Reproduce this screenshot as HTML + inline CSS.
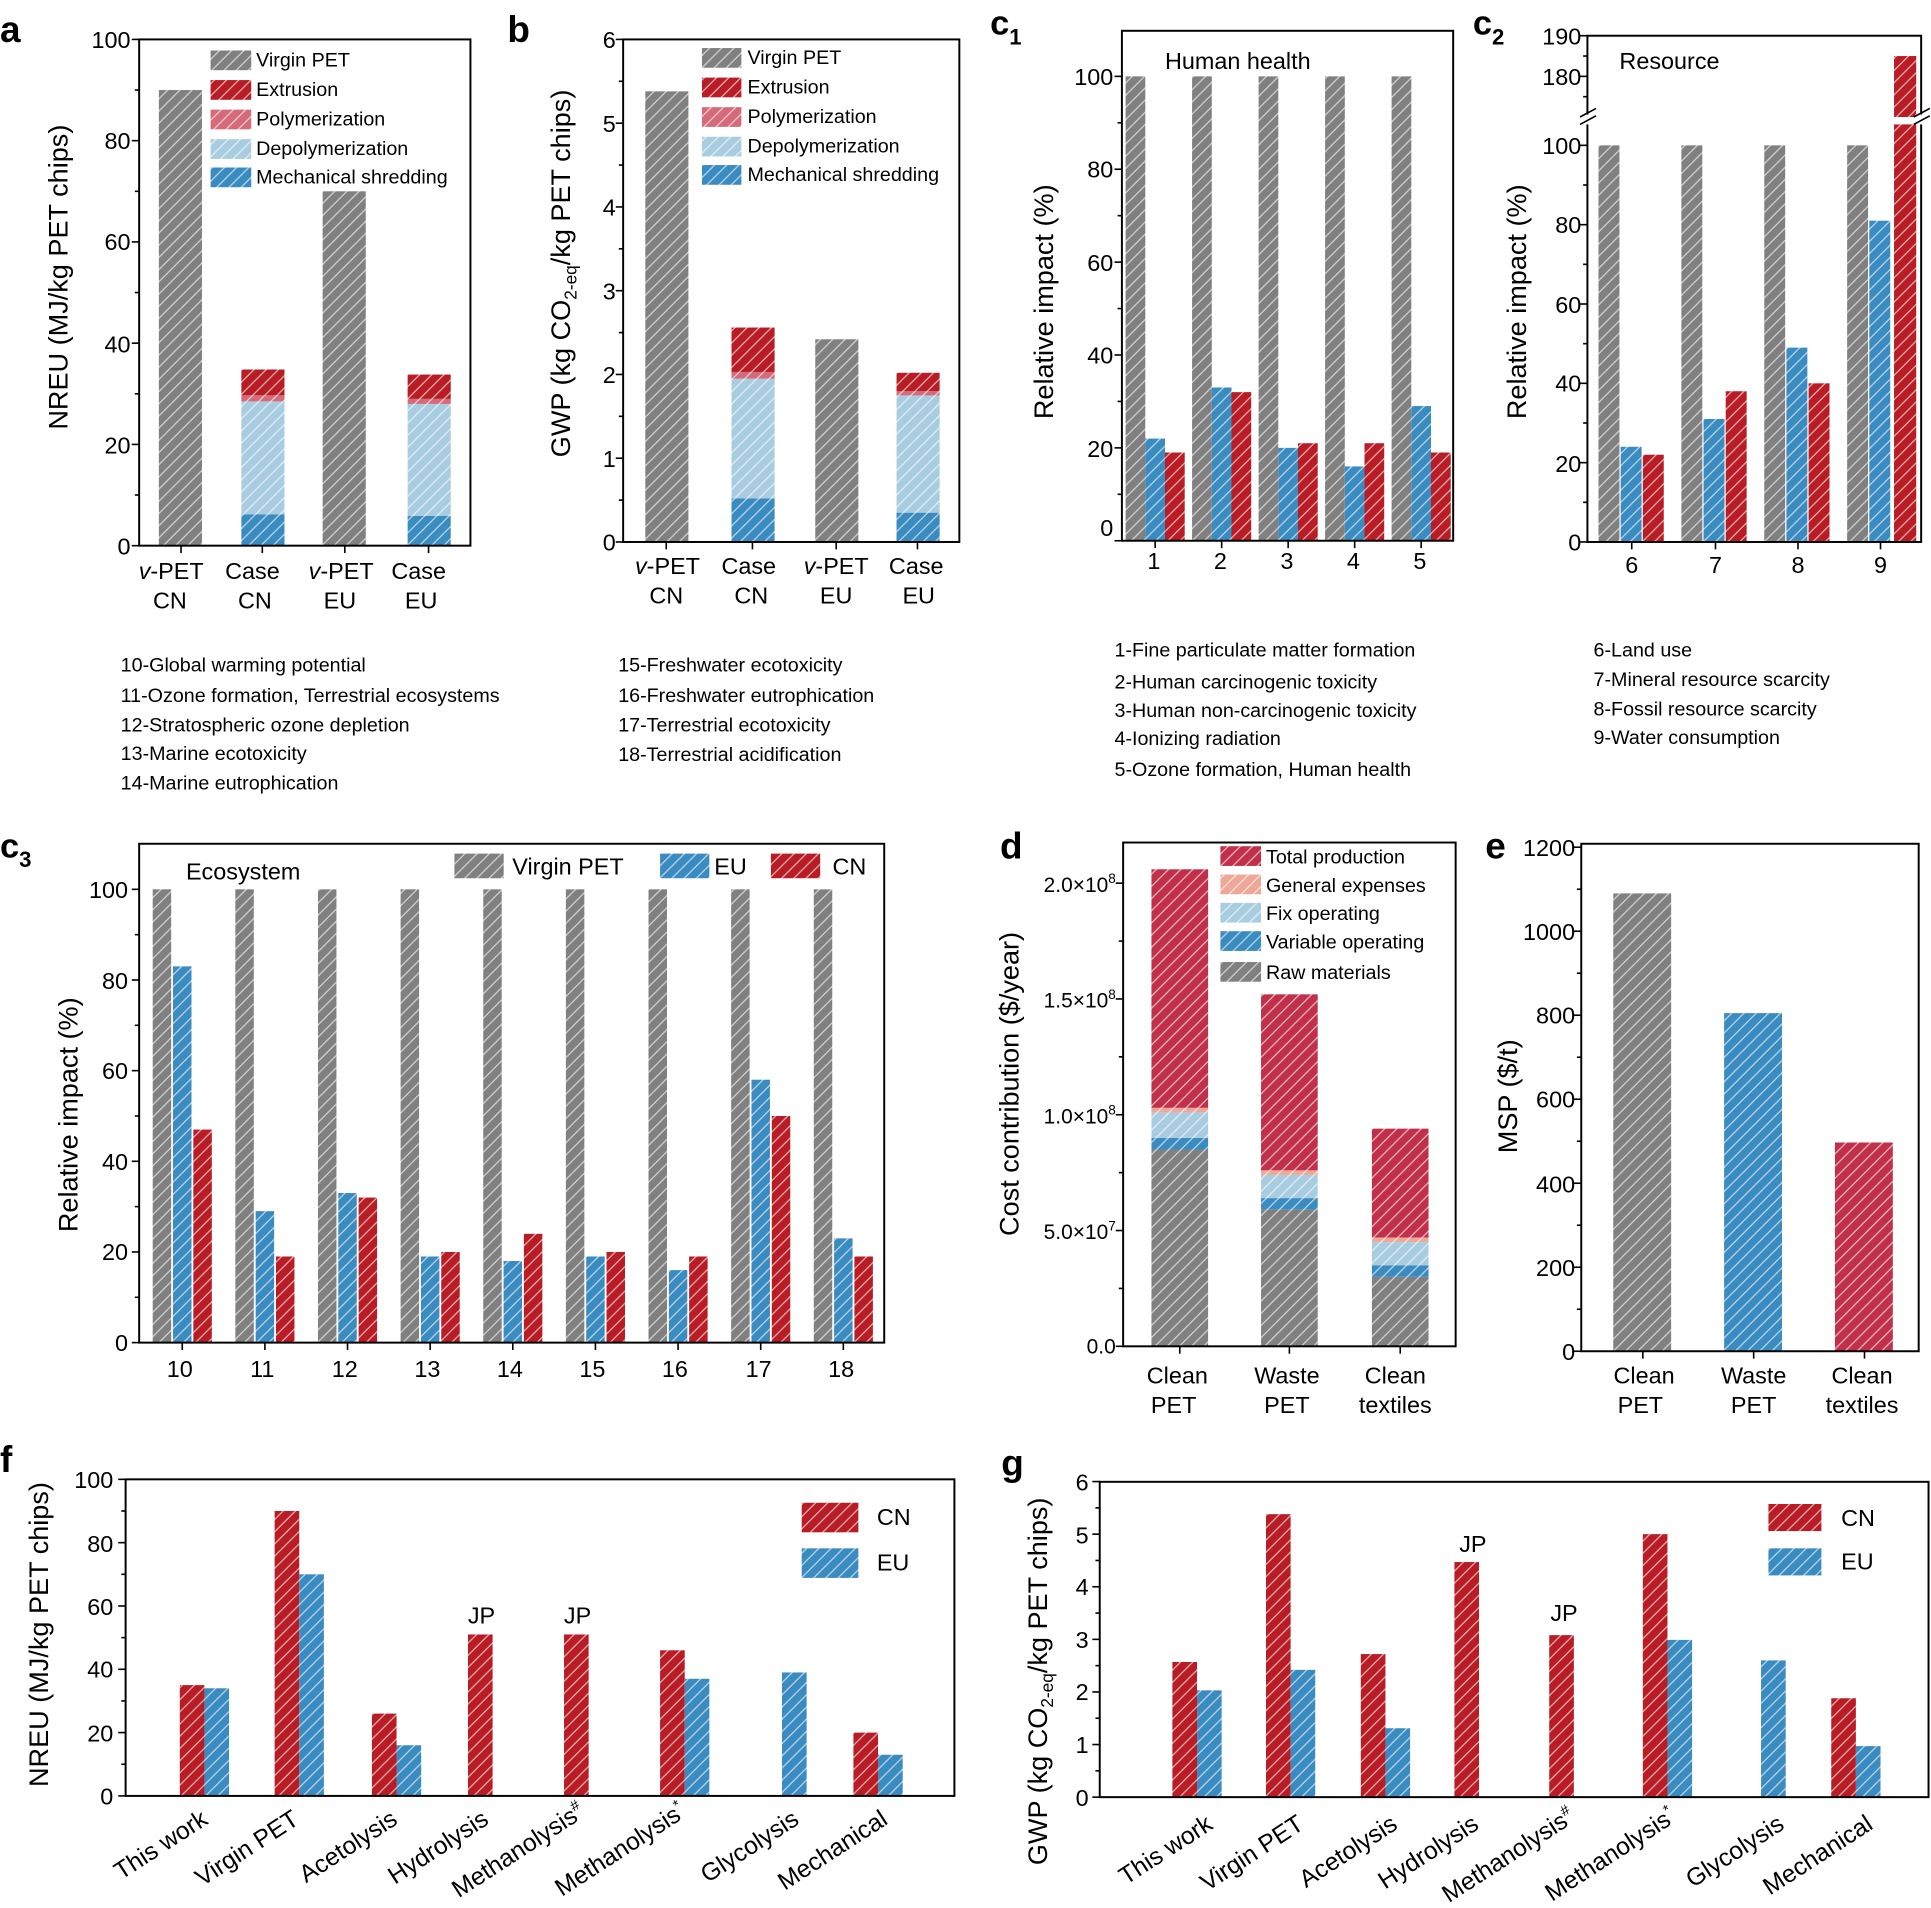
<!DOCTYPE html>
<html><head><meta charset="utf-8"><style>
html,body{margin:0;padding:0;background:#fff}
svg{display:block;font-family:"Liberation Sans",Arial,sans-serif}
</style></head><body>
<svg id="s" width="1931" height="1908" viewBox="0 0 1568 1549" preserveAspectRatio="none" xmlns="http://www.w3.org/2000/svg">
<defs>
<pattern id="pg" width="7" height="7" patternUnits="userSpaceOnUse" patternTransform="rotate(45)"><rect width="7" height="7" fill="#808080"/><line x1="1" y1="0" x2="1" y2="7" stroke="#fff" stroke-width="1" opacity=".65"/></pattern>
<pattern id="pr" width="7" height="7" patternUnits="userSpaceOnUse" patternTransform="rotate(45)"><rect width="7" height="7" fill="#b81c25"/><line x1="1" y1="0" x2="1" y2="7" stroke="#fff" stroke-width="1" opacity=".65"/></pattern>
<pattern id="pc" width="7" height="7" patternUnits="userSpaceOnUse" patternTransform="rotate(45)"><rect width="7" height="7" fill="#c0304a"/><line x1="1" y1="0" x2="1" y2="7" stroke="#fff" stroke-width="1" opacity=".65"/></pattern>
<pattern id="pp" width="7" height="7" patternUnits="userSpaceOnUse" patternTransform="rotate(45)"><rect width="7" height="7" fill="#d46a7a"/><line x1="1" y1="0" x2="1" y2="7" stroke="#fff" stroke-width="1" opacity=".65"/></pattern>
<pattern id="pl" width="7" height="7" patternUnits="userSpaceOnUse" patternTransform="rotate(45)"><rect width="7" height="7" fill="#a9cde0"/><line x1="1" y1="0" x2="1" y2="7" stroke="#fff" stroke-width="1" opacity=".65"/></pattern>
<pattern id="pb" width="7" height="7" patternUnits="userSpaceOnUse" patternTransform="rotate(45)"><rect width="7" height="7" fill="#3a8bbf"/><line x1="1" y1="0" x2="1" y2="7" stroke="#fff" stroke-width="1" opacity=".65"/></pattern>
<pattern id="ps" width="7" height="7" patternUnits="userSpaceOnUse" patternTransform="rotate(45)"><rect width="7" height="7" fill="#eea898"/><line x1="1" y1="0" x2="1" y2="7" stroke="#fff" stroke-width="1" opacity=".65"/></pattern>
</defs>
<g id="marks"></g>
<g font-size="19" fill="#000">
<text x="0" y="34" font-size="30" font-weight="bold">a</text>
<text x="412" y="34" font-size="30" font-weight="bold">b</text>
<text x="804" y="28" font-size="28" font-weight="bold">c<tspan font-size="18" dy="8">1</tspan></text>
<text x="1196" y="28" font-size="28" font-weight="bold">c<tspan font-size="18" dy="8">2</tspan></text>
<text x="0" y="696" font-size="28" font-weight="bold">c<tspan font-size="18" dy="8">3</tspan></text>
<text x="812" y="697" font-size="30" font-weight="bold">d</text>
<text x="1206" y="697" font-size="30" font-weight="bold">e</text>
<text x="0" y="1195" font-size="30" font-weight="bold">f</text>
<text x="813" y="1198" font-size="30" font-weight="bold">g</text>

<g text-anchor="end"><text x="106" y="450">0</text><text x="106" y="368">20</text><text x="106" y="286">40</text><text x="106" y="203">60</text><text x="106" y="121">80</text><text x="106" y="39">100</text></g>
<text transform="translate(55,225) rotate(-90)" text-anchor="middle" font-size="22">NREU (MJ/kg PET chips)</text>
<g text-anchor="middle"><text x="139" y="470"><tspan font-style="italic">v</tspan>-PET</text><text x="138" y="494">CN</text>
<text x="205" y="470">Case</text><text x="207" y="494">CN</text>
<text x="277" y="470"><tspan font-style="italic">v</tspan>-PET</text><text x="276" y="494">EU</text>
<text x="340" y="470">Case</text><text x="342" y="494">EU</text></g>
<g font-size="16"><text x="208" y="54">Virgin PET</text><text x="208" y="78">Extrusion</text><text x="208" y="102">Polymerization</text><text x="208" y="126">Depolymerization</text><text x="208" y="149">Mechanical shredding</text></g>

<g text-anchor="end"><text x="500" y="447">0</text><text x="500" y="379">1</text><text x="500" y="311">2</text><text x="500" y="243">3</text><text x="500" y="175">4</text><text x="500" y="107">5</text><text x="500" y="39">6</text></g>
<text transform="translate(463,222) rotate(-90)" text-anchor="middle" font-size="22">GWP (kg CO<tspan font-size="14" dy="5">2-eq</tspan><tspan dy="-5">/kg PET chips)</tspan></text>
<g text-anchor="middle"><text x="542" y="466"><tspan font-style="italic">v</tspan>-PET</text><text x="541" y="490">CN</text>
<text x="608" y="466">Case</text><text x="610" y="490">CN</text>
<text x="679" y="466"><tspan font-style="italic">v</tspan>-PET</text><text x="679" y="490">EU</text>
<text x="744" y="466">Case</text><text x="746" y="490">EU</text></g>
<g font-size="16"><text x="607" y="52">Virgin PET</text><text x="607" y="76">Extrusion</text><text x="607" y="100">Polymerization</text><text x="607" y="124">Depolymerization</text><text x="607" y="147">Mechanical shredding</text></g>

<g text-anchor="end"><text x="904" y="435">0</text><text x="904" y="371">20</text><text x="904" y="295">40</text><text x="904" y="220">60</text><text x="904" y="144">80</text><text x="904" y="69">100</text></g>
<text transform="translate(855,245) rotate(-90)" text-anchor="middle" font-size="22">Relative impact (%)</text>
<text x="946" y="56" font-size="19">Human health</text>
<g text-anchor="middle"><text x="937" y="462">1</text><text x="991" y="462">2</text><text x="1045" y="462">3</text><text x="1099" y="462">4</text><text x="1153" y="462">5</text></g>

<g text-anchor="end"><text x="1284" y="447">0</text><text x="1284" y="383">20</text><text x="1284" y="318">40</text><text x="1284" y="254">60</text><text x="1284" y="189">80</text><text x="1284" y="125">100</text><text x="1284" y="69">180</text><text x="1284" y="36">190</text></g>
<text transform="translate(1239,245) rotate(-90)" text-anchor="middle" font-size="22">Relative impact (%)</text>
<text x="1315" y="56" font-size="19">Resource</text>
<g text-anchor="middle"><text x="1325" y="465">6</text><text x="1393" y="465">7</text><text x="1460" y="465">8</text><text x="1527" y="465">9</text></g>

<g font-size="16">
<text x="98" y="545">10-Global warming potential</text><text x="98" y="570">11-Ozone formation, Terrestrial ecosystems</text><text x="98" y="594">12-Stratospheric ozone depletion</text><text x="98" y="617">13-Marine ecotoxicity</text><text x="98" y="641">14-Marine eutrophication</text>
<text x="502" y="545">15-Freshwater ecotoxicity</text><text x="502" y="570">16-Freshwater eutrophication</text><text x="502" y="594">17-Terrestrial ecotoxicity</text><text x="502" y="618">18-Terrestrial acidification</text>
<text x="905" y="533">1-Fine particulate matter formation</text><text x="905" y="559">2-Human carcinogenic toxicity</text><text x="905" y="582">3-Human non-carcinogenic toxicity</text><text x="905" y="605">4-Ionizing radiation</text><text x="905" y="630">5-Ozone formation, Human health</text>
<text x="1294" y="533">6-Land use</text><text x="1294" y="557">7-Mineral resource scarcity</text><text x="1294" y="581">8-Fossil resource scarcity</text><text x="1294" y="604">9-Water consumption</text>
</g>

<g text-anchor="end"><text x="104" y="1097">0</text><text x="104" y="1023">20</text><text x="104" y="950">40</text><text x="104" y="876">60</text><text x="104" y="803">80</text><text x="104" y="729">100</text></g>
<text transform="translate(63,905) rotate(-90)" text-anchor="middle" font-size="22">Relative impact (%)</text>
<text x="151" y="714" font-size="19">Ecosystem</text>
<text x="416" y="710" font-size="19">Virgin PET</text><text x="580" y="710" font-size="19">EU</text><text x="676" y="710" font-size="19">CN</text>
<g text-anchor="middle"><text x="146" y="1118">10</text><text x="213" y="1118">11</text><text x="280" y="1118">12</text><text x="347" y="1118">13</text><text x="414" y="1118">14</text><text x="481" y="1118">15</text><text x="548" y="1118">16</text><text x="616" y="1118">17</text><text x="683" y="1118">18</text></g>

<g text-anchor="end" font-size="17"><text x="906" y="1099">0.0</text><text x="906" y="1006">5.0×10<tspan font-size="11" dy="-7">7</tspan></text><text x="906" y="912">1.0×10<tspan font-size="11" dy="-7">8</tspan></text><text x="906" y="818">1.5×10<tspan font-size="11" dy="-7">8</tspan></text><text x="906" y="724">2.0×10<tspan font-size="11" dy="-7">8</tspan></text></g>
<text transform="translate(827,880) rotate(-90)" text-anchor="middle" font-size="22">Cost contribution ($/year)</text>
<g font-size="16"><text x="1028" y="701">Total production</text><text x="1028" y="724">General expenses</text><text x="1028" y="747">Fix operating</text><text x="1028" y="770">Variable operating</text><text x="1028" y="795">Raw materials</text></g>
<g text-anchor="middle"><text x="956" y="1123">Clean</text><text x="953" y="1147">PET</text><text x="1045" y="1123">Waste</text><text x="1045" y="1147">PET</text><text x="1133" y="1123">Clean</text><text x="1133" y="1147">textiles</text>
<text x="1335" y="1123">Clean</text><text x="1332" y="1147">PET</text><text x="1424" y="1123">Waste</text><text x="1424" y="1147">PET</text><text x="1512" y="1123">Clean</text><text x="1512" y="1147">textiles</text></g>

<g text-anchor="end"><text x="1279" y="1104">0</text><text x="1279" y="1036">200</text><text x="1279" y="968">400</text><text x="1279" y="899">600</text><text x="1279" y="831">800</text><text x="1279" y="763">1000</text><text x="1279" y="695">1200</text></g>
<text transform="translate(1232,890) rotate(-90)" text-anchor="middle" font-size="22">MSP ($/t)</text>

<g text-anchor="end"><text x="92" y="1465">0</text><text x="92" y="1414">20</text><text x="92" y="1362">40</text><text x="92" y="1311">60</text><text x="92" y="1260">80</text><text x="92" y="1208">100</text></g>
<text transform="translate(39,1327) rotate(-90)" text-anchor="middle" font-size="22">NREU (MJ/kg PET chips)</text>
<text x="712" y="1238">CN</text><text x="712" y="1275">EU</text>
<text x="391" y="1318" text-anchor="middle">JP</text><text x="469" y="1318" text-anchor="middle">JP</text>
<g text-anchor="end" font-size="20">
<text transform="translate(170,1480) rotate(-33)">This work</text>
<text transform="translate(244,1480) rotate(-33)">Virgin PET</text>
<text transform="translate(324,1480) rotate(-33)">Acetolysis</text>
<text transform="translate(398,1480) rotate(-33)">Hydrolysis</text>
<text transform="translate(476,1474) rotate(-33)">Methanolysis<tspan font-size="12" dy="-8">#</tspan></text>
<text transform="translate(558,1474) rotate(-33)">Methanolysis<tspan font-size="12" dy="-8">*</tspan></text>
<text transform="translate(650,1480) rotate(-33)">Glycolysis</text>
<text transform="translate(722,1480) rotate(-33)">Mechanical</text>
</g>

<g text-anchor="end"><text x="884" y="1466">0</text><text x="884" y="1423">1</text><text x="884" y="1380">2</text><text x="884" y="1338">3</text><text x="884" y="1295">4</text><text x="884" y="1253">5</text><text x="884" y="1210">6</text></g>
<text transform="translate(850,1365) rotate(-90)" text-anchor="middle" font-size="22">GWP (kg CO<tspan font-size="14" dy="5">2-eq</tspan><tspan dy="-5">/kg PET chips)</tspan></text>
<text x="1495" y="1239">CN</text><text x="1495" y="1274">EU</text>
<text x="1196" y="1260" text-anchor="middle">JP</text><text x="1270" y="1316" text-anchor="middle">JP</text>
<g text-anchor="end" font-size="20">
<text transform="translate(986,1484) rotate(-33)">This work</text>
<text transform="translate(1060,1484) rotate(-33)">Virgin PET</text>
<text transform="translate(1136,1484) rotate(-33)">Acetolysis</text>
<text transform="translate(1202,1484) rotate(-33)">Hydrolysis</text>
<text transform="translate(1280,1478) rotate(-33)">Methanolysis<tspan font-size="12" dy="-8">#</tspan></text>
<text transform="translate(1362,1478) rotate(-33)">Methanolysis<tspan font-size="12" dy="-8">*</tspan></text>
<text transform="translate(1450,1484) rotate(-33)">Glycolysis</text>
<text transform="translate(1522,1484) rotate(-33)">Mechanical</text>
</g>
</g>
</svg>
<script>
var g=document.getElementById('marks'),NS='http://www.w3.org/2000/svg',h='';
function R(x,y,w,hh,f){h+='<rect x="'+x+'" y="'+y+'" width="'+w+'" height="'+hh+'" fill="url(#'+f+')"/>';}
function B(x,w,y0,s,a,b,f){var t=y0-b*s,bt=y0-a*s;R(x,t,w,bt-t,f);}
function L(x1,y1,x2,y2,sw){h+='<line x1="'+x1+'" y1="'+y1+'" x2="'+x2+'" y2="'+y2+'" stroke="#000" stroke-width="'+(sw||1.5)+'"/>';}
function box(x1,y1,x2,y2){h+='<rect x="'+x1+'" y="'+y1+'" width="'+(x2-x1)+'" height="'+(y2-y1)+'" fill="none" stroke="#000" stroke-width="1.6"/>';}
function yt(x,y0,s,step,max,minor){for(var v=0;v<=max+1e-9;v+=step){var y=y0-v*s;var maj=Math.abs(v/minor-Math.round(v/minor))<1e-6&&Math.round(v/minor)%2==0;L(x,y,x-(maj?6:3.5),y,1.3);}}
function xt(xs,y){xs.forEach(function(x){L(x,y,x,y+6,1.3);});}
var s=4.11,y0=443;
B(129,35,y0,s,0,90,'pg');B(262,35,y0,s,0,70,'pg');
var cx=196;B(cx,35,y0,s,0,6.2,'pb');B(cx,35,y0,s,6.2,28.5,'pl');B(cx,35,y0,s,28.5,29.7,'pp');B(cx,35,y0,s,29.7,34.8,'pr');
cx=331;B(cx,35,y0,s,0,5.9,'pb');B(cx,35,y0,s,5.9,28,'pl');B(cx,35,y0,s,28,29,'pp');B(cx,35,y0,s,29,33.8,'pr');
['pg','pr','pp','pl','pb'].forEach(function(p,i){R(171,[41,65,89,113,136][i],33,16,p);});
box(113,32,382,443);yt(113,443,4.11,10,100,10);xt([147,213,280,348],443);
s=68;y0=440;
B(524,35,y0,s,0,5.38,'pg');B(662,35,y0,s,0,2.42,'pg');
cx=594;B(cx,35,y0,s,0,0.52,'pb');B(cx,35,y0,s,0.52,1.95,'pl');B(cx,35,y0,s,1.95,2.03,'pp');B(cx,35,y0,s,2.03,2.56,'pr');
cx=728;B(cx,35,y0,s,0,0.35,'pb');B(cx,35,y0,s,0.35,1.75,'pl');B(cx,35,y0,s,1.75,1.8,'pp');B(cx,35,y0,s,1.8,2.02,'pr');
['pg','pr','pp','pl','pb'].forEach(function(p,i){R(570,[39,63,87,111,134][i],32,16,p);});
box(506,32,779,440);yt(506,440,68,0.5,6,0.5);xt([541,611,679,745],440);
s=3.77;y0=439;
[[100,22,19],[100,33,32],[100,20,21],[100,16,21],[100,29,19]].forEach(function(v,i){var c=938+54*i;B(c-24,16,y0,s,0,v[0],'pg');B(c-8,16,y0,s,0,v[1],'pb');B(c+8,16,y0,s,0,v[2],'pr');});
box(911,25,1180,439);yt(911,439,3.77,10,100,10);xt([938,992,1046,1100,1154],439);
s=3.22;y0=440;
[[100,24,22],[100,31,38],[100,49,40],[100,81,0]].forEach(function(v,i){var c=1325+67.3*i;B(c-27,17,y0,s,0,v[0],'pg');B(c-9,17,y0,s,0,v[1],'pb');if(v[2])B(c+9,17,y0,s,0,v[2],'pr');});
R(1538,101,18,339,'pr');R(1538,45.5,18,49.5,'pr');
h+='<rect x="1289" y="29" width="271" height="411" fill="none" stroke="#000" stroke-width="1.6"/>';
h+='<rect x="1282" y="93" width="12" height="8" fill="#fff"/><rect x="1555" y="93" width="12" height="8" fill="#fff"/>';
L(1283,95,1296,88,1.3);L(1283,101,1296,94,1.3);L(1554,95,1567,88,1.3);L(1554,101,1567,94,1.3);
for(var v=0;v<=100;v+=10){var y=440-v*3.22;L(1289,y,1289-(v%20==0?6:3.5),y,1.3);}
[[180,62,6],[190,29,6],[185,45.5,3.5],[175,78.5,3.5]].forEach(function(t){L(1289,t[1],1289-t[2],t[1],1.3);});
xt([1325,1393,1460,1527],440);
s=3.68;y0=1090;
[[100,83,47],[100,29,19],[100,33,32],[100,19,20],[100,18,24],[100,19,20],[100,16,19],[100,58,50],[100,23,19]].forEach(function(v,i){var c=148+67.1*i;B(c-24,15,y0,s,0,v[0],'pg');B(c-7.5,15,y0,s,0,v[1],'pb');B(c+9,15,y0,s,0,v[2],'pr');});
R(369,693,40,20,'pg');R(536,693,40,20,'pb');R(626,693,40,20,'pr');
box(113,685,718,1090);yt(113,1090,3.68,10,100,10);xt([148,215.1,282.2,349.3,416.4,483.5,550.6,617.7,684.8],1090);
s=1.88;y0=1093;
[[935,8.5,9.0,10.1,10.3,20.6],[1024,5.9,6.4,7.4,7.6,15.2],[1114,3.0,3.5,4.5,4.7,9.4]].forEach(function(d){var x=d[0];B(x,46,y0,s*10,0,d[1],'pg');B(x,46,y0,s*10,d[1],d[2],'pb');B(x,46,y0,s*10,d[2],d[3],'pl');B(x,46,y0,s*10,d[3],d[4],'ps');B(x,46,y0,s*10,d[4],d[5],'pc');});
['pc','ps','pl','pb','pg'].forEach(function(p,i){R(991,[687,710,733,756,781][i],33,16,p);});
box(912,684,1182,1093);yt(912,1093,18.8,2.5,22,2.5);xt([958,1047,1137],1093);
s=0.341;y0=1097;
B(1310,47,y0,s,0,1090,'pg');B(1400,47,y0,s,0,805,'pb');B(1490,47,y0,s,0,497,'pc');
box(1284,685,1558,1097);yt(1284,1097,0.341,100,1200,100);xt([1334,1424,1514],1097);
s=2.57;y0=1458;
[[146,35,34],[223,90,70],[302,26,16],[380,51,0],[458,51,0],[536,46,37],[615,0,39],[693,20,13]].forEach(function(v){if(v[1])B(v[0],20,y0,s,0,v[1],'pr');if(v[2])B(v[0]+20,20,y0,s,0,v[2],'pb');});
R(651,1220,46,24,'pr');R(651,1257,46,24,'pb');
box(102,1201,775,1458);yt(102,1458,2.57,10,100,10);
s=42.7;y0=1459;
[[952,2.57,2.03],[1028,5.38,2.42],[1105,2.72,1.31],[1181,4.47,0],[1258,3.08,0],[1334,5.0,2.99],[1410,0,2.6],[1487,1.88,0.97]].forEach(function(v){if(v[1])B(v[0],20,y0,s,0,v[1],'pr');if(v[2])B(v[0]+20,20,y0,s,0,v[2],'pb');});
R(1436,1221,43,22,'pr');R(1436,1257,43,22,'pb');
box(893,1203,1566,1459);yt(893,1459,42.7,0.5,6,0.5);
g.innerHTML=h;
</script>
</body></html>
